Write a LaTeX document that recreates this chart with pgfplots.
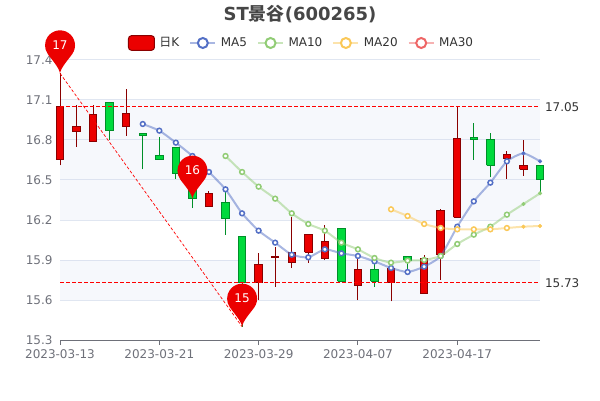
\documentclass[border=0pt]{standalone}
\usepackage{fontspec}
\setmainfont{DejaVu Sans}
\newfontfamily\cjk{Noto Sans CJK SC}
\usepackage{pgfplots}
\usepackage{pgfplotstable}
\pgfplotsset{compat=1.18}
\definecolor{upc}{HTML}{EB0000}
\definecolor{upb}{HTML}{8A0000}
\definecolor{dnc}{HTML}{00DA3C}
\definecolor{dnb}{HTML}{008F28}
\definecolor{mafive}{HTML}{5470C6}
\definecolor{maten}{HTML}{91CC75}
\definecolor{matwenty}{HTML}{FAC858}
\definecolor{mathirty}{HTML}{EE6666}
\definecolor{axc}{HTML}{6E7079}
\definecolor{gridc}{HTML}{E0E6F1}
\definecolor{splitc}{HTML}{D2DBEE}
\definecolor{txt}{HTML}{333333}
\definecolor{ttl}{HTML}{464646}
\newcommand\fs[1]{\fontsize{#1bp}{#1bp}\selectfont}
% x, body top, body bottom, wick low, wick high, border, fill
\newcommand\cand[7]{%
  \addplot[forget plot,draw=#6,line width=1bp] coordinates {(#1,#4) (#1,#5)};
  \pgfmathsetmacro\xl{#1-0.225}\pgfmathsetmacro\xr{#1+0.225}
  \addplot[forget plot,draw=#6,fill=#7,line width=1bp,line join=miter] coordinates {(\xl,#3) (\xr,#3) (\xr,#2) (\xl,#2) (\xl,#3)};
}
\newcommand\candR[5]{\cand{#1}{#2}{#3}{#4}{#5}{upb}{upc}}
\newcommand\candG[5]{\cand{#1}{#2}{#3}{#4}{#5}{dnb}{dnc}}
\pgfdeclareplotmark{pin}{%
  \pgfpathmoveto{\pgfqpoint{0bp}{0bp}}%
  \pgfpathcurveto{\pgfqpoint{1bp}{6bp}}{\pgfqpoint{8.3bp}{13.7bp}}{\pgfqpoint{12.3bp}{19.4bp}}%
  \pgfpatharc{-35}{215}{15bp}%
  \pgfpathcurveto{\pgfqpoint{-8.3bp}{13.7bp}}{\pgfqpoint{-1bp}{6bp}}{\pgfqpoint{0bp}{0bp}}%
  \pgfpathclose\pgfusepathqfill}
\pgfplotstableread{
x y
5 16.92
6 16.87
7 16.78
8 16.68
9 16.56
10 16.43
11 16.25
12 16.12
13 16.03
14 15.94
15 15.92
16 15.98
17 15.95
18 15.93
19 15.89
20 15.84
21 15.81
22 15.85
23 15.93
24 16.15
25 16.34
26 16.48
27 16.64
28 16.70
29 16.64
}\mafive
\pgfplotstableread{
x y
10 16.68
11 16.56
12 16.45
13 16.36
14 16.25
15 16.17
16 16.12
17 16.03
18 15.98
19 15.915
20 15.88
21 15.895
22 15.90
23 15.93
24 16.02
25 16.09
26 16.15
27 16.24
28 16.32
29 16.40
}\maten
\pgfplotstableread{
x y
20 16.28
21 16.23
22 16.17
23 16.14
24 16.13
25 16.13
26 16.13
27 16.14
28 16.15
29 16.155
}\matwenty
\begin{document}
\begin{tikzpicture}[x=1bp,y=1bp]
\useasboundingbox (0,0) rectangle (600,400);
\begin{axis}[
  at={(60bp,60bp)},anchor=south west,
  scale only axis,width=480bp,height=280bp,
  xmin=0,xmax=29,ymin=15.3,ymax=17.4,
  clip=false,
  axis x line*=bottom,axis y line*=left,
  y axis line style={draw=none},
  x axis line style={draw=axc,line width=1bp,-},
  xtick={0,6,12,18,24},
  xticklabels={2023-03-13,2023-03-21,2023-03-29,2023-04-07,2023-04-17},
  ytick={15.3,15.6,15.9,16.2,16.5,16.8,17.1,17.4},
  y tick label style={/pgf/number format/fixed,/pgf/number format/precision=1,/pgf/number format/fixed zerofill,/pgf/number format/assume math mode=true,font=\fs{12},text=axc,xshift=1bp},
  x tick label style={font=\fs{12},text=axc,yshift=-1bp},
  scaled y ticks=false,
  ymajorgrids,
  grid style={draw=gridc,line width=1bp},
  major tick length=5bp,
  tick align=outside,
  xtick style={draw=axc,line width=1bp},
  ytick style={draw=none},
  title={\fs{18}\bfseries ST{\cjk 景谷}(600265)},
  title style={at={(axis description cs:0.5,1)},anchor=center,yshift=40bp,text=ttl,inner sep=0pt},
  legend columns=5,
  legend style={at={(axis description cs:0.5,1)},anchor=center,yshift=17bp,xshift=0.5bp,draw=none,fill=none,font=\fs{12},text=txt,
    inner sep=0pt,outer sep=0pt,
    /tikz/every even column/.append style={column sep=10bp},
    /tikz/every odd column/.append style={column sep=4.5bp},
    nodes={inner sep=0pt,outer sep=0pt}},
  legend cell align=left,
]
% split areas
\fill[splitc,opacity=0.2] (axis cs:0,17.1) rectangle (axis cs:29,16.2);
\fill[splitc,opacity=0.2] (axis cs:0,15.9) rectangle (axis cs:29,15.6);
% legend keys
\addlegendimage{legend image code/.code={\draw[upb,fill=upc,line width=1bp,rounded corners=3bp] (0bp,-7.3bp) rectangle (26bp,7.3bp);}}
\addlegendentry{{\cjk 日}K}
\addlegendimage{legend image code/.code={\draw[mafive,opacity=0.5,line width=2bp] (0bp,0bp)--(25bp,0bp);\draw[mafive,fill=white,line width=2bp] (12.5bp,0bp) circle (5bp);}}
\addlegendentry{MA5}
\addlegendimage{legend image code/.code={\draw[maten,opacity=0.5,line width=2bp] (0bp,0bp)--(25bp,0bp);\draw[maten,fill=white,line width=2bp] (12.5bp,0bp) circle (5bp);}}
\addlegendentry{MA10}
\addlegendimage{legend image code/.code={\draw[matwenty,opacity=0.5,line width=2bp] (0bp,0bp)--(25bp,0bp);\draw[matwenty,fill=white,line width=2bp] (12.5bp,0bp) circle (5bp);}}
\addlegendentry{MA20}
\addlegendimage{legend image code/.code={\draw[mathirty,opacity=0.5,line width=2bp] (0bp,0bp)--(25bp,0bp);\draw[mathirty,fill=white,line width=2bp] (12.5bp,0bp) circle (5bp);}}
\addlegendentry{MA30}
% candles
\candR{0}{17.05}{16.65}{16.61}{17.30}
\candR{1}{16.90}{16.86}{16.75}{17.06}
\candR{2}{16.99}{16.79}{16.79}{17.06}
\candG{3}{17.08}{16.87}{16.80}{17.08}
\candR{4}{17.00}{16.90}{16.83}{17.18}
\candG{5}{16.85}{16.83}{16.58}{16.85}
\candG{6}{16.68}{16.65}{16.65}{16.82}
\candG{7}{16.74}{16.55}{16.51}{16.75}
\candG{8}{16.56}{16.36}{16.29}{16.56}
\candR{9}{16.40}{16.30}{16.30}{16.42}
\candG{10}{16.33}{16.21}{16.09}{16.42}
\candG{11}{16.08}{15.73}{15.40}{16.08}
\candR{12}{15.87}{15.73}{15.60}{15.95}
\candR{13}{15.93}{15.92}{15.70}{16.00}
\candR{14}{15.96}{15.88}{15.84}{16.22}
\candR{15}{16.09}{15.96}{15.88}{16.09}
\candR{16}{16.04}{15.91}{15.90}{16.16}
\candG{17}{16.14}{15.74}{15.74}{16.14}
\candR{18}{15.83}{15.71}{15.60}{15.94}
\candG{19}{15.83}{15.74}{15.70}{15.90}
\candR{20}{15.84}{15.73}{15.59}{15.84}
\candG{21}{15.93}{15.90}{15.81}{15.93}
\candR{22}{15.91}{15.65}{15.65}{15.94}
\candR{23}{16.27}{15.94}{15.75}{16.28}
\candR{24}{16.81}{16.22}{16.22}{17.05}
\candG{25}{16.82}{16.80}{16.65}{16.93}
\candG{26}{16.80}{16.61}{16.52}{16.85}
\candR{27}{16.69}{16.66}{16.51}{16.72}
\candR{28}{16.61}{16.58}{16.53}{16.80}
\candG{29}{16.61}{16.50}{16.40}{16.61}
% mark lines
\addplot[forget plot,red,line width=1bp,dash pattern=on 4bp off 2bp] coordinates {(0,17.05) (29,17.05)}
  node[pos=1,anchor=west,xshift=3.5bp,text=txt,font=\fs{12},inner sep=1pt] {17.05};
\addplot[forget plot,red,line width=1bp,dash pattern=on 4bp off 2bp] coordinates {(0,15.73) (29,15.73)}
  node[pos=1,anchor=west,xshift=3.5bp,text=txt,font=\fs{12},inner sep=1pt] {15.73};
\addplot[forget plot,red,line width=0.7bp,dash pattern=on 3bp off 2bp] coordinates {(0,17.30) (11,15.40)};
% moving averages
\addplot[forget plot,mafive,line width=2bp,opacity=0.5,smooth,tension=0.35] table {\mafive};
\addplot[forget plot,maten,line width=2bp,opacity=0.5,smooth,tension=0.35] table {\maten};
\addplot[forget plot,matwenty,line width=2bp,opacity=0.5,smooth,tension=0.35] table {\matwenty};
\addplot[forget plot,only marks,mark=*,mark size=2.4bp,mark options={draw=mafive,fill=white,line width=1.5bp},restrict x to domain=5:27] table {\mafive};
\addplot[forget plot,only marks,mark=*,mark size=1.8bp,mark options={draw=mafive,fill=mafive,line width=0.5bp},restrict x to domain=28:29] table {\mafive};
\addplot[forget plot,only marks,mark=*,mark size=2.4bp,mark options={draw=maten,fill=white,line width=1.5bp},restrict x to domain=10:27] table {\maten};
\addplot[forget plot,only marks,mark=*,mark size=1.8bp,mark options={draw=maten,fill=maten,line width=0.5bp},restrict x to domain=28:29] table {\maten};
\addplot[forget plot,only marks,mark=*,mark size=2.4bp,mark options={draw=matwenty,fill=white,line width=1.5bp},restrict x to domain=20:27] table {\matwenty};
\addplot[forget plot,only marks,mark=*,mark size=1.8bp,mark options={draw=matwenty,fill=matwenty,line width=0.5bp},restrict x to domain=28:29] table {\matwenty};
% mark points
\addplot[forget plot,only marks,mark=pin,mark options={fill=upc,draw=none},
  point meta=explicit symbolic,nodes near coords,
  every node near coord/.style={anchor=center,yshift=28.5bp,text=white,font=\fs{12},inner sep=0pt}]
  table[meta=label] {
x y label
0 17.30 17
8 16.36 16
11 15.40 15
};
\end{axis}
\end{tikzpicture}
\end{document}
